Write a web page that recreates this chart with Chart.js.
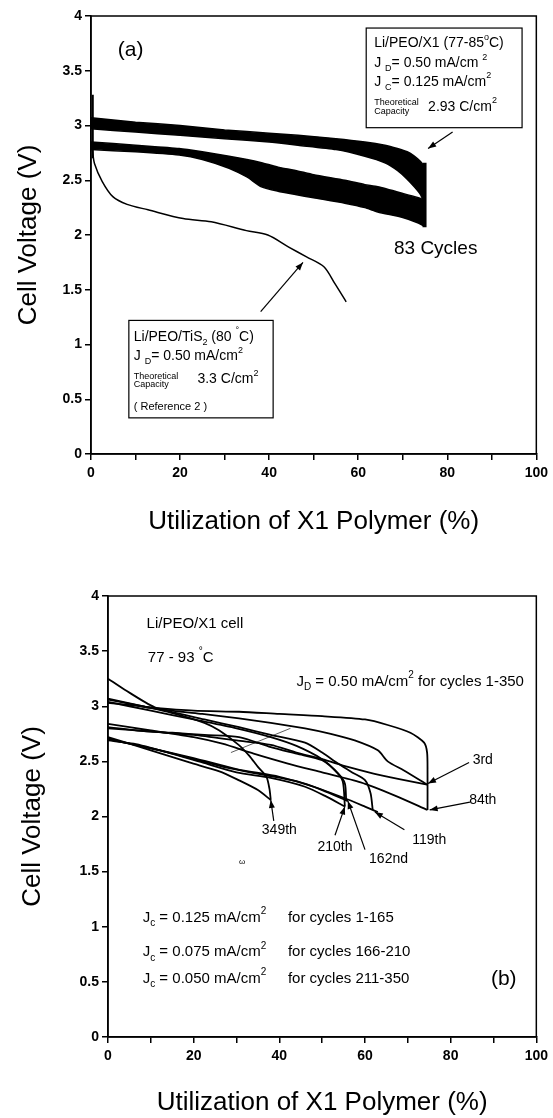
<!DOCTYPE html>
<html>
<head>
<meta charset="utf-8">
<script src="https://cdn.jsdelivr.net/npm/chart.js@4.4.1/dist/chart.umd.min.js"></script>
<style>
  body { margin: 0; background: #fff; }
  #wrapA { position: absolute; left: 0; top: 0; }
  #wrapB { position: absolute; left: 0; top: 545px; }
</style>
</head>
<body>
<div id="wrapA"><canvas id="chartA" width="553" height="545"></canvas></div>
<div id="wrapB"><canvas id="chartB" width="553" height="573"></canvas></div>
<script>
// ---- panel (a) data: 83 cycle band (drawn as envelopes) + TiS2 reference ----
var chargeX    = [0, 10, 20, 30, 40, 46.5, 55, 61.5, 66, 68.8, 71, 72.6, 74, 74.8];
var chargeTop  = [3.07, 3.03, 3.00, 2.96, 2.93, 2.91, 2.88, 2.85, 2.82, 2.79, 2.76, 2.72, 2.67, 2.63];
var chargeBot  = [2.97, 2.94, 2.91, 2.88, 2.85, 2.82, 2.78, 2.72, 2.66, 2.59, 2.51, 2.44, 2.37, 2.30];
var dischX     = [0, 10, 19.8, 25, 31, 35, 38.3, 42, 45.9, 50, 57, 61.5, 64.4, 70, 73.5, 74.8];
var dischTop   = [2.85, 2.82, 2.79, 2.76, 2.72, 2.69, 2.66, 2.62, 2.59, 2.55, 2.50, 2.46, 2.44, 2.38, 2.34, 2.32];
var dischBot   = [2.78, 2.76, 2.73, 2.69, 2.61, 2.53, 2.44, 2.40, 2.37, 2.34, 2.29, 2.25, 2.21, 2.16, 2.11, 2.08];
var endX       = [74.9, 74.9];
var endY       = [2.66, 2.07];
var startX     = [0.4, 0.4];
var startY     = [2.70, 3.28];
var gap1X = [36, 40, 44, 48];
var gap1Y = [2.62, 2.56, 2.49, 2.43];
var gap2X = [47, 55, 62, 69, 73.5];
var gap2Y = [2.52, 2.45, 2.39, 2.33, 2.28];
var gap3X = [69, 71, 72.5, 73.2];
var gap3Y = [2.77, 2.70, 2.58, 2.50];
var tis2X = [0.3, 0.8, 2.5, 4.9, 8.1, 12.8, 20.7, 27.0, 34.9, 39.7, 44.4, 48.4, 52.3, 54.7, 57.3];
var tis2Y = [2.78, 2.65, 2.49, 2.35, 2.28, 2.23, 2.15, 2.12, 2.04, 2.00, 1.89, 1.80, 1.71, 1.56, 1.39];

// ---- panel (b) data: selected cycles ----
var curvesB = [
  { x: [0, 10, 20, 30.6, 40, 50, 60, 65.3, 70.6, 73.8, 74.5, 74.6, 74.6],
    y: [3.03, 2.99, 2.96, 2.95, 2.93, 2.91, 2.88, 2.83, 2.76, 2.67, 2.58, 2.40, 2.06] },
  { x: [0, 3.9, 10.9, 15, 22, 30.6, 38, 46, 52, 57.6, 63, 65.3, 69, 74.5],
    y: [3.25, 3.15, 2.99, 2.96, 2.93, 2.89, 2.85, 2.80, 2.75, 2.69, 2.60, 2.50, 2.42, 2.29] },
  { x: [0, 8, 14.8, 22.5, 30.6, 38, 46, 50, 53.7, 57, 60, 61.3, 61.8],
    y: [3.06, 3.00, 2.95, 2.88, 2.81, 2.74, 2.67, 2.58, 2.48, 2.40, 2.33, 2.21, 2.06] },
  { x: [0, 6.9, 15, 22.5, 30.6, 38, 44, 50, 53.7, 55.3, 55.6],
    y: [2.81, 2.78, 2.76, 2.74, 2.72, 2.63, 2.57, 2.51, 2.39, 2.30, 2.15] },
  { x: [0, 10, 20, 30, 38, 44, 50, 53, 54.8, 55.3],
    y: [3.04, 2.96, 2.88, 2.80, 2.72, 2.64, 2.52, 2.42, 2.32, 2.09] },
  { x: [0, 8, 14.8, 22.5, 26, 30.5, 33, 35, 37, 37.7, 38],
    y: [3.07, 3.00, 2.94, 2.85, 2.78, 2.65, 2.55, 2.45, 2.36, 2.25, 2.15] },
  { x: [0, 10, 20, 26.7, 34, 42, 50, 59, 67, 74.6],
    y: [2.84, 2.78, 2.72, 2.66, 2.57, 2.48, 2.40, 2.31, 2.19, 2.06] },
  { x: [0, 10, 20, 30, 38, 44, 50, 56, 62, 68, 74.5],
    y: [2.80, 2.77, 2.74, 2.69, 2.65, 2.58, 2.52, 2.45, 2.39, 2.34, 2.29] },
  { x: [0, 10, 20, 30, 40, 48, 55, 60, 63],
    y: [2.70, 2.62, 2.53, 2.43, 2.36, 2.27, 2.17, 2.09, 2.04] },
  { x: [0, 5, 12, 20, 28, 36, 44, 50, 56],
    y: [2.71, 2.66, 2.60, 2.52, 2.44, 2.38, 2.32, 2.24, 2.14] },
  { x: [0, 6, 14, 22, 30, 38, 46, 51, 55.3],
    y: [2.69, 2.66, 2.58, 2.49, 2.40, 2.35, 2.27, 2.18, 2.09] },
  { x: [0, 10, 19, 26, 30.5, 35, 38],
    y: [2.72, 2.60, 2.49, 2.41, 2.33, 2.24, 2.15] }
];
var strayX = [28.7, 42.6];
var strayY = [2.58, 2.80];

var FONT = '"Liberation Sans", Arial, Helvetica, sans-serif';

function pts(xs, ys) {
  return xs.map(function (x, i) { return { x: x, y: ys[i] }; });
}

function line(xs, ys, w, extra) {
  var d = {
    data: pts(xs, ys),
    borderColor: '#000',
    borderWidth: w,
    pointRadius: 0,
    tension: 0.25,
    fill: false
  };
  for (var k in extra) d[k] = extra[k];
  return d;
}

// rich text: parts = [[text, ''|'sub'|'sup'], ...]
function drawParts(ctx, px, py, parts, size, align) {
  function f(kind) { return (kind ? Math.round(size * 0.65) : size) + 'px ' + FONT; }
  var w = 0;
  parts.forEach(function (p) { ctx.font = f(p[1]); w += ctx.measureText(p[0]).width; });
  var cx = align === 'center' ? px - w / 2 : (align === 'right' ? px - w : px);
  ctx.textAlign = 'left';
  ctx.textBaseline = 'middle';
  ctx.fillStyle = '#000';
  parts.forEach(function (p) {
    ctx.font = f(p[1]);
    var dy = p[1] === 'sub' ? size * 0.38 : (p[1] === 'sup' ? -size * 0.42 : 0);
    ctx.fillText(p[0], cx, py + dy);
    cx += ctx.measureText(p[0]).width;
  });
}

function annotPlugin(items) {
  return {
    id: 'annot',
    afterDatasetsDraw: function (chart) {
      var ctx = chart.ctx, ca = chart.chartArea;
      var sx = chart.scales.x, sy = chart.scales.y;
      ctx.save();
      ctx.strokeStyle = '#000';
      ctx.lineWidth = 1.5;
      ctx.strokeRect(ca.left, ca.top, ca.right - ca.left, ca.bottom - ca.top);
      items.forEach(function (it) {
        if (it.t === 'text') {
          drawParts(ctx, sx.getPixelForValue(it.x), sy.getPixelForValue(it.y), it.parts, it.size || 14, it.align || 'left');
        } else if (it.t === 'box') {
          var x1 = sx.getPixelForValue(it.x1), x2 = sx.getPixelForValue(it.x2);
          var y1 = sy.getPixelForValue(it.y1), y2 = sy.getPixelForValue(it.y2);
          ctx.fillStyle = '#fff';
          ctx.fillRect(x1, y1, x2 - x1, y2 - y1);
          ctx.lineWidth = 1.2;
          ctx.strokeRect(x1, y1, x2 - x1, y2 - y1);
        } else if (it.t === 'arrow') {
          var ax = sx.getPixelForValue(it.x1), ay = sy.getPixelForValue(it.y1);
          var bx = sx.getPixelForValue(it.x2), by = sy.getPixelForValue(it.y2);
          var ang = Math.atan2(by - ay, bx - ax);
          ctx.lineWidth = 1.2;
          ctx.beginPath(); ctx.moveTo(ax, ay); ctx.lineTo(bx, by); ctx.stroke();
          ctx.beginPath();
          ctx.moveTo(bx, by);
          ctx.lineTo(bx - 8 * Math.cos(ang) + 3 * Math.sin(ang), by - 8 * Math.sin(ang) - 3 * Math.cos(ang));
          ctx.lineTo(bx - 8 * Math.cos(ang) - 3 * Math.sin(ang), by - 8 * Math.sin(ang) + 3 * Math.cos(ang));
          ctx.closePath();
          ctx.fillStyle = '#000';
          ctx.fill();
        }
      });
      ctx.restore();
    }
  };
}

function scales(yWidth, yTitlePad, xHeight) {
  var grid = { display: true, drawOnChartArea: false, drawTicks: true, tickLength: 6, color: '#000', lineWidth: 1.5 };
  var tickFont = { family: FONT, size: 14, weight: 'bold' };
  var titleFont = { family: FONT, size: 26, weight: 'normal' };
  return {
    x: {
      type: 'linear', min: 0, max: 100,
      grid: grid,
      border: { color: '#000', width: 1.5 },
      ticks: {
        stepSize: 10, autoSkip: false, maxRotation: 0, padding: 5, color: '#000', font: tickFont,
        callback: function (v) { return v % 20 === 0 ? String(v) : ''; }
      },
      title: { display: true, text: 'Utilization of X1 Polymer (%)', color: '#000', font: titleFont, padding: { top: 0, bottom: 0 } },
      afterFit: function (s) { s.height = xHeight; }
    },
    y: {
      type: 'linear', min: 0, max: 4,
      grid: grid,
      border: { color: '#000', width: 1.5 },
      ticks: {
        stepSize: 0.5, padding: 3, color: '#000', font: tickFont,
        callback: function (v) { return String(v); }
      },
      title: { display: true, text: 'Cell Voltage (V)', color: '#000', font: titleFont, padding: { top: yTitlePad, bottom: 0 } },
      afterFit: function (s) { s.width = yWidth; }
    }
  };
}

function baseOptions(pad, yWidth, yTitlePad, xHeight) {
  return {
    responsive: false,
    animation: false,
    devicePixelRatio: 1,
    layout: { padding: pad },
    plugins: { legend: { display: false }, tooltip: { enabled: false } },
    scales: scales(yWidth, yTitlePad, xHeight)
  };
}

// ---------- panel (a) ----------
var itemsA = [
  { t: 'text', x: 8.9, y: 3.69, parts: [['(a)', '']], size: 21, align: 'center' },
  { t: 'box', x1: 61.8, y1: 3.89, x2: 96.8, y2: 2.98 },
  { t: 'text', x: 63.6, y: 3.75, parts: [['Li/PEO/X1 (77-85', ''], ['o', 'sup'], ['C)', '']], size: 14 },
  { t: 'text', x: 63.6, y: 3.57, parts: [['J ', ''], ['D', 'sub'], ['= 0.50 mA/cm ', ''], ['2', 'sup']], size: 14 },
  { t: 'text', x: 63.6, y: 3.40, parts: [['J ', ''], ['C', 'sub'], ['= 0.125 mA/cm', ''], ['2', 'sup']], size: 14 },
  { t: 'text', x: 63.6, y: 3.21, parts: [['Theoretical', '']], size: 9 },
  { t: 'text', x: 63.6, y: 3.13, parts: [['Capacity', '']], size: 9 },
  { t: 'text', x: 75.7, y: 3.17, parts: [['2.93 C/cm', ''], ['2', 'sup']], size: 14 },
  { t: 'arrow', x1: 81.2, y1: 2.94, x2: 75.7, y2: 2.79 },
  { t: 'text', x: 77.4, y: 1.87, parts: [['83 Cycles', '']], size: 19, align: 'center' },
  { t: 'box', x1: 8.5, y1: 1.22, x2: 40.9, y2: 0.33 },
  { t: 'text', x: 9.6, y: 1.07, parts: [['Li/PEO/TiS', ''], ['2', 'sub'], [' (80 ', ''], ['\u00b0', 'sup'], ['C)', '']], size: 14 },
  { t: 'text', x: 9.6, y: 0.89, parts: [['J ', ''], ['D', 'sub'], ['= 0.50 mA/cm', ''], ['2', 'sup']], size: 14 },
  { t: 'text', x: 9.6, y: 0.71, parts: [['Theoretical', '']], size: 9 },
  { t: 'text', x: 9.6, y: 0.63, parts: [['Capacity', '']], size: 9 },
  { t: 'text', x: 23.9, y: 0.68, parts: [['3.3 C/cm', ''], ['2', 'sup']], size: 14 },
  { t: 'text', x: 9.6, y: 0.43, parts: [['( Reference 2 )', '']], size: 11 },
  { t: 'arrow', x1: 38.1, y1: 1.30, x2: 47.6, y2: 1.75 }
];

new Chart(document.getElementById('chartA').getContext('2d'), {
  type: 'line',
  data: {
    datasets: [
      line(chargeX, chargeTop, 1.5, { tension: 0.2 }),
      line(chargeX, chargeBot, 1.5, { tension: 0.2, fill: '-1', backgroundColor: '#000' }),
      line(dischX, dischTop, 1.5, { tension: 0.2 }),
      line(dischX, dischBot, 1.5, { tension: 0.2, fill: '-1', backgroundColor: '#000' }),
      line(endX, endY, 4, { tension: 0 }),
      line(startX, startY, 2, { tension: 0 }),
      line(tis2X, tis2Y, 1.5, { tension: 0.3 }),
      line(gap1X, gap1Y, 1.3, { borderColor: '#fff' }),
      line(gap2X, gap2Y, 1.3, { borderColor: '#fff' }),
      line(gap3X, gap3Y, 1.2, { borderColor: '#fff' })
    ]
  },
  options: baseOptions({ left: 0, right: 13, top: 16, bottom: 8 }, 91, 13, 83),
  plugins: [annotPlugin(itemsA)]
});

// ---------- panel (b) ----------
var itemsB = [
  { t: 'text', x: 9, y: 3.75, parts: [['Li/PEO/X1 cell', '']], size: 15 },
  { t: 'text', x: 9.3, y: 3.44, parts: [['77 - 93 ', ''], ['\u00b0', 'sup'], ['C', '']], size: 15 },
  { t: 'text', x: 44, y: 3.22, parts: [['J', ''], ['D', 'sub'], [' = 0.50 mA/cm', ''], ['2', 'sup'], [' for cycles 1-350', '']], size: 15 },
  { t: 'text', x: 87.5, y: 2.51, parts: [['3rd', '']], size: 14, align: 'center' },
  { t: 'arrow', x1: 84.3, y1: 2.49, x2: 74.7, y2: 2.30 },
  { t: 'text', x: 87.5, y: 2.15, parts: [['84th', '']], size: 14, align: 'center' },
  { t: 'arrow', x1: 84.5, y1: 2.13, x2: 75.1, y2: 2.06 },
  { t: 'text', x: 40, y: 1.88, parts: [['349th', '']], size: 14, align: 'center' },
  { t: 'arrow', x1: 38.7, y1: 1.96, x2: 38, y2: 2.15 },
  { t: 'text', x: 53, y: 1.72, parts: [['210th', '']], size: 14, align: 'center' },
  { t: 'arrow', x1: 53, y1: 1.83, x2: 55.3, y2: 2.09 },
  { t: 'text', x: 65.5, y: 1.61, parts: [['162nd', '']], size: 14, align: 'center' },
  { t: 'arrow', x1: 60, y1: 1.70, x2: 56, y2: 2.14 },
  { t: 'text', x: 75, y: 1.79, parts: [['119th', '']], size: 14, align: 'center' },
  { t: 'arrow', x1: 69.2, y1: 1.88, x2: 62.3, y2: 2.04 },
  { t: 'text', x: 31.3, y: 1.59, parts: [['\u03c9', '']], size: 8, align: 'center' },
  { t: 'text', x: 8.1, y: 1.08, parts: [['J', ''], ['c', 'sub'], [' = 0.125 mA/cm', ''], ['2', 'sup']], size: 15 },
  { t: 'text', x: 42, y: 1.08, parts: [['for cycles 1-165', '']], size: 15 },
  { t: 'text', x: 8.1, y: 0.77, parts: [['J', ''], ['c', 'sub'], [' = 0.075 mA/cm', ''], ['2', 'sup']], size: 15 },
  { t: 'text', x: 42, y: 0.77, parts: [['for cycles 166-210', '']], size: 15 },
  { t: 'text', x: 8.1, y: 0.53, parts: [['J', ''], ['c', 'sub'], [' = 0.050 mA/cm', ''], ['2', 'sup']], size: 15 },
  { t: 'text', x: 42, y: 0.53, parts: [['for cycles 211-350', '']], size: 15 },
  { t: 'text', x: 92.4, y: 0.52, parts: [['(b)', '']], size: 21, align: 'center' }
];

var dsB = curvesB.map(function (c) { return line(c.x, c.y, 1.8, { tension: 0.25 }); });
dsB.push(line(strayX, strayY, 0.8, { tension: 0, borderColor: '#333' }));

new Chart(document.getElementById('chartB').getContext('2d'), {
  type: 'line',
  data: { datasets: dsB },
  options: baseOptions({ left: 0, right: 13, top: 51, bottom: 0 }, 108, 17, 81),
  plugins: [annotPlugin(itemsB)]
});
</script>
</body>
</html>
